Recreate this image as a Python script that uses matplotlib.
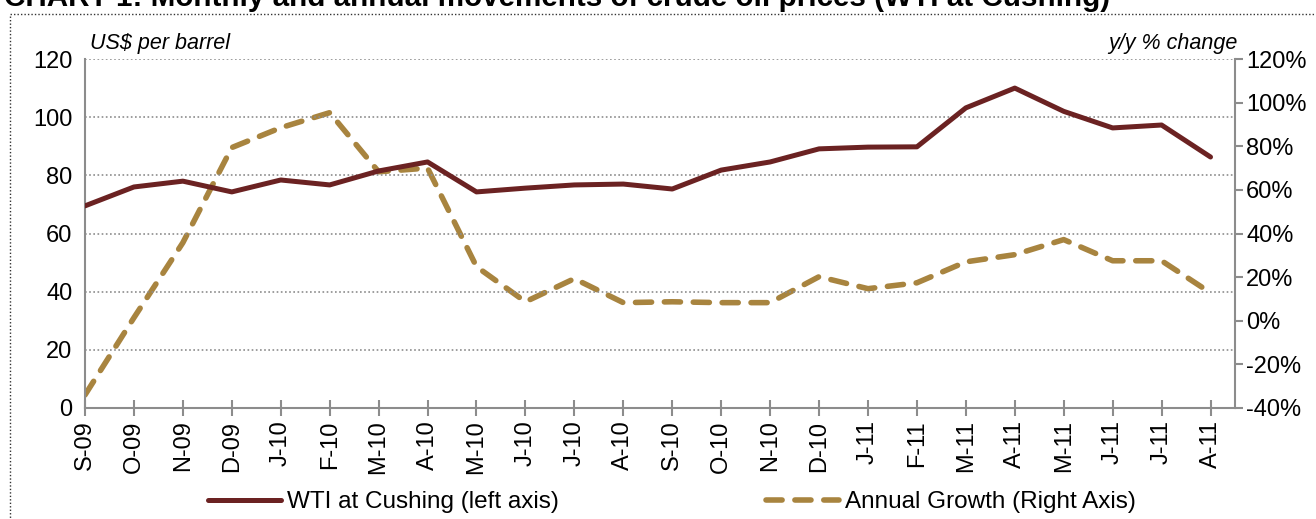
import matplotlib
matplotlib.use("Agg")
import matplotlib.pyplot as plt
from matplotlib.patches import Rectangle
from matplotlib.ticker import FuncFormatter

plt.rcParams['font.family'] = ['Liberation Sans', 'DejaVu Sans']

months = ["S-09", "O-09", "N-09", "D-09", "J-10", "F-10", "M-10", "A-10",
          "M-10", "J-10", "J-10", "A-10", "S-10", "O-10", "N-10", "D-10",
          "J-11", "F-11", "M-11", "A-11", "M-11", "J-11", "J-11", "A-11"]

# WTI at Cushing, US$ per barrel
wti = [69.5, 76.0, 78.0, 74.3, 78.4, 76.7, 81.5, 84.6,
       74.3, 75.6, 76.7, 77.0, 75.3, 81.8, 84.6, 89.1,
       89.7, 89.8, 103.2, 110.0, 102.0, 96.3, 97.3, 86.3]

# annual growth, y/y %
growth = [-34.0, 1.4, 35.8, 79.4, 88.5, 95.4, 68.3, 70.0,
          24.8, 8.7, 19.3, 8.3, 8.7, 8.3, 8.3, 20.2,
          14.7, 17.4, 27.0, 30.3, 37.2, 27.5, 27.5, 12.8]

wtiColor = "#6B2222"
growthColor = "#A8843F"
axisGray = "#8C8C8C"
fs = 17

fig = plt.figure(figsize=(13.16, 5.19), dpi=100)
ax = fig.add_axes([85 / 1316, 1 - 408 / 519, 1150 / 1316, 349 / 519])
ax2 = ax.twinx()

x = list(range(len(months)))
l1, = ax.plot(x, wti, color=wtiColor, lw=3.6, solid_capstyle='round',
              label="WTI at Cushing (left axis)", zorder=3)
l2, = ax2.plot(x, growth, color=growthColor, lw=4, dashes=(2.9, 2.3),
               dash_capstyle='round', label="Annual Growth (Right Axis)")

ax.set_xlim(0, 23.5)
ax.set_ylim(0, 120)
ax.set_yticks(range(0, 121, 20))
ax2.set_ylim(-40, 120)
ax2.set_yticks(range(-40, 121, 20))
ax2.yaxis.set_major_formatter(FuncFormatter(lambda v, p: f"{v:.0f}%"))

ax.set_xticks(x)
ax.set_xticklabels(months, rotation=90, fontsize=fs)
ax.tick_params(axis='x', direction='inout', length=12, width=1.5, color=axisGray, pad=3)
ax.tick_params(axis='y', length=0, labelsize=fs, pad=9)
ax2.tick_params(axis='y', direction='out', length=6, width=1.5, color=axisGray, labelsize=fs, pad=2)

for a in (ax, ax2):
    a.spines['top'].set_visible(False)
    for s in ('left', 'right', 'bottom'):
        a.spines[s].set_color(axisGray)
        a.spines[s].set_linewidth(1.5)
ax.spines['right'].set_visible(False)
ax2.spines['left'].set_visible(False)
ax2.spines['bottom'].set_visible(False)

for v in range(20, 121, 20):
    ax.axhline(v, color="#8C8C8C", lw=1.2, ls=(0, (1, 1.5)), zorder=1)

ax.set_zorder(ax2.get_zorder() + 1)
ax.patch.set_visible(False)

fig.text(90 / 1316, 1 - 43 / 519, "US$ per barrel", style='italic', fontsize=15.5,
         ha='left', va='center')
fig.text(1238 / 1316, 1 - 43 / 519, "y/y % change", style='italic', fontsize=15.5,
         ha='right', va='center')

# title is cropped at the top edge in the original
fig.text(4 / 1316, 1 - 6 / 519,
         "CHART 1: Monthly and annual movements of crude oil prices (WTI at Cushing)",
         fontsize=21.3, fontweight='bold', ha='left', va='baseline')

fig.patches.append(Rectangle((10 / 1316, -0.1), 1.2, 1.1 - 14 / 519,
                             transform=fig.transFigure, fill=False,
                             edgecolor="#333333", lw=1, ls=(0, (1, 1.5))))

fig.legend([l1, l2], [l1.get_label(), l2.get_label()], loc='center',
           bbox_to_anchor=(672 / 1316, 1 - 502 / 519), ncol=2, frameon=False,
           fontsize=fs + 0.5, handlelength=3.0, columnspacing=8.5, handletextpad=0.25)

fig.savefig("out.png", dpi=100)
